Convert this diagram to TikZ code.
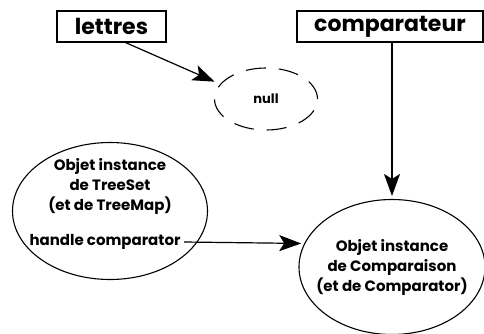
\documentclass[tikz,border=0pt]{standalone}
\usepackage{fontspec}
\setmainfont{Poppins}
\usepackage{tikz}
\usetikzlibrary{arrows.meta, positioning, shapes.geometric}

\begin{document}
\begin{tikzpicture}[
    x=1pt, y=1pt,
    var/.style={draw, line width=1.1pt, inner sep=4pt, font=\fontsize{22}{24}\selectfont\bfseries},
    obj/.style={draw, ellipse, line width=1.1pt, inner sep=0pt},
    txt/.style={font=\fontsize{15}{20}\selectfont\bfseries, align=center},
    ptr/.style={line width=1.2pt, -{Stealth[length=22pt, width=16pt, inset=5pt]}},
]
    \useasboundingbox (0,0) rectangle (484,333);

    % les variables
    \node[var, minimum width=109pt, minimum height=31pt] (lettres) at (111.5,306.5) {lettres};
    \node[var, minimum width=186pt, minimum height=31pt] (comp) at (390,306.5) {comparateur};

    % null
    \node[obj, dash pattern=on 20pt off 13pt, minimum width=103pt, minimum height=62pt,
          font=\fontsize{13}{15}\selectfont\bfseries] (null) at (266,234) {null};

    % les objets
    \node[obj, minimum width=195pt, minimum height=137pt] (treeset) at (110,122) {};
    \node[txt] (ts) at (110,147) {Objet instance\\de TreeSet\\(et de TreeMap)};
    \node[txt] (hc) at (105,91) {handle comparator};
    \node[obj, minimum width=186pt, minimum height=135pt] (cmp) at (392,66) {};
    \node[txt] (cp) at (392,66) {Objet instance\\de Comparaison\\(et de Comparator)};

    % fleches
    \draw[ptr, shorten >=6pt] ([xshift=14pt]lettres.south) -- (null.162);
    \draw[ptr, shorten >=3pt] (comp.south -| cmp.north) -- (cmp.north);
    \draw[ptr, shorten >=3pt] (hc.east) -- (cmp.165);
\end{tikzpicture}
\end{document}
